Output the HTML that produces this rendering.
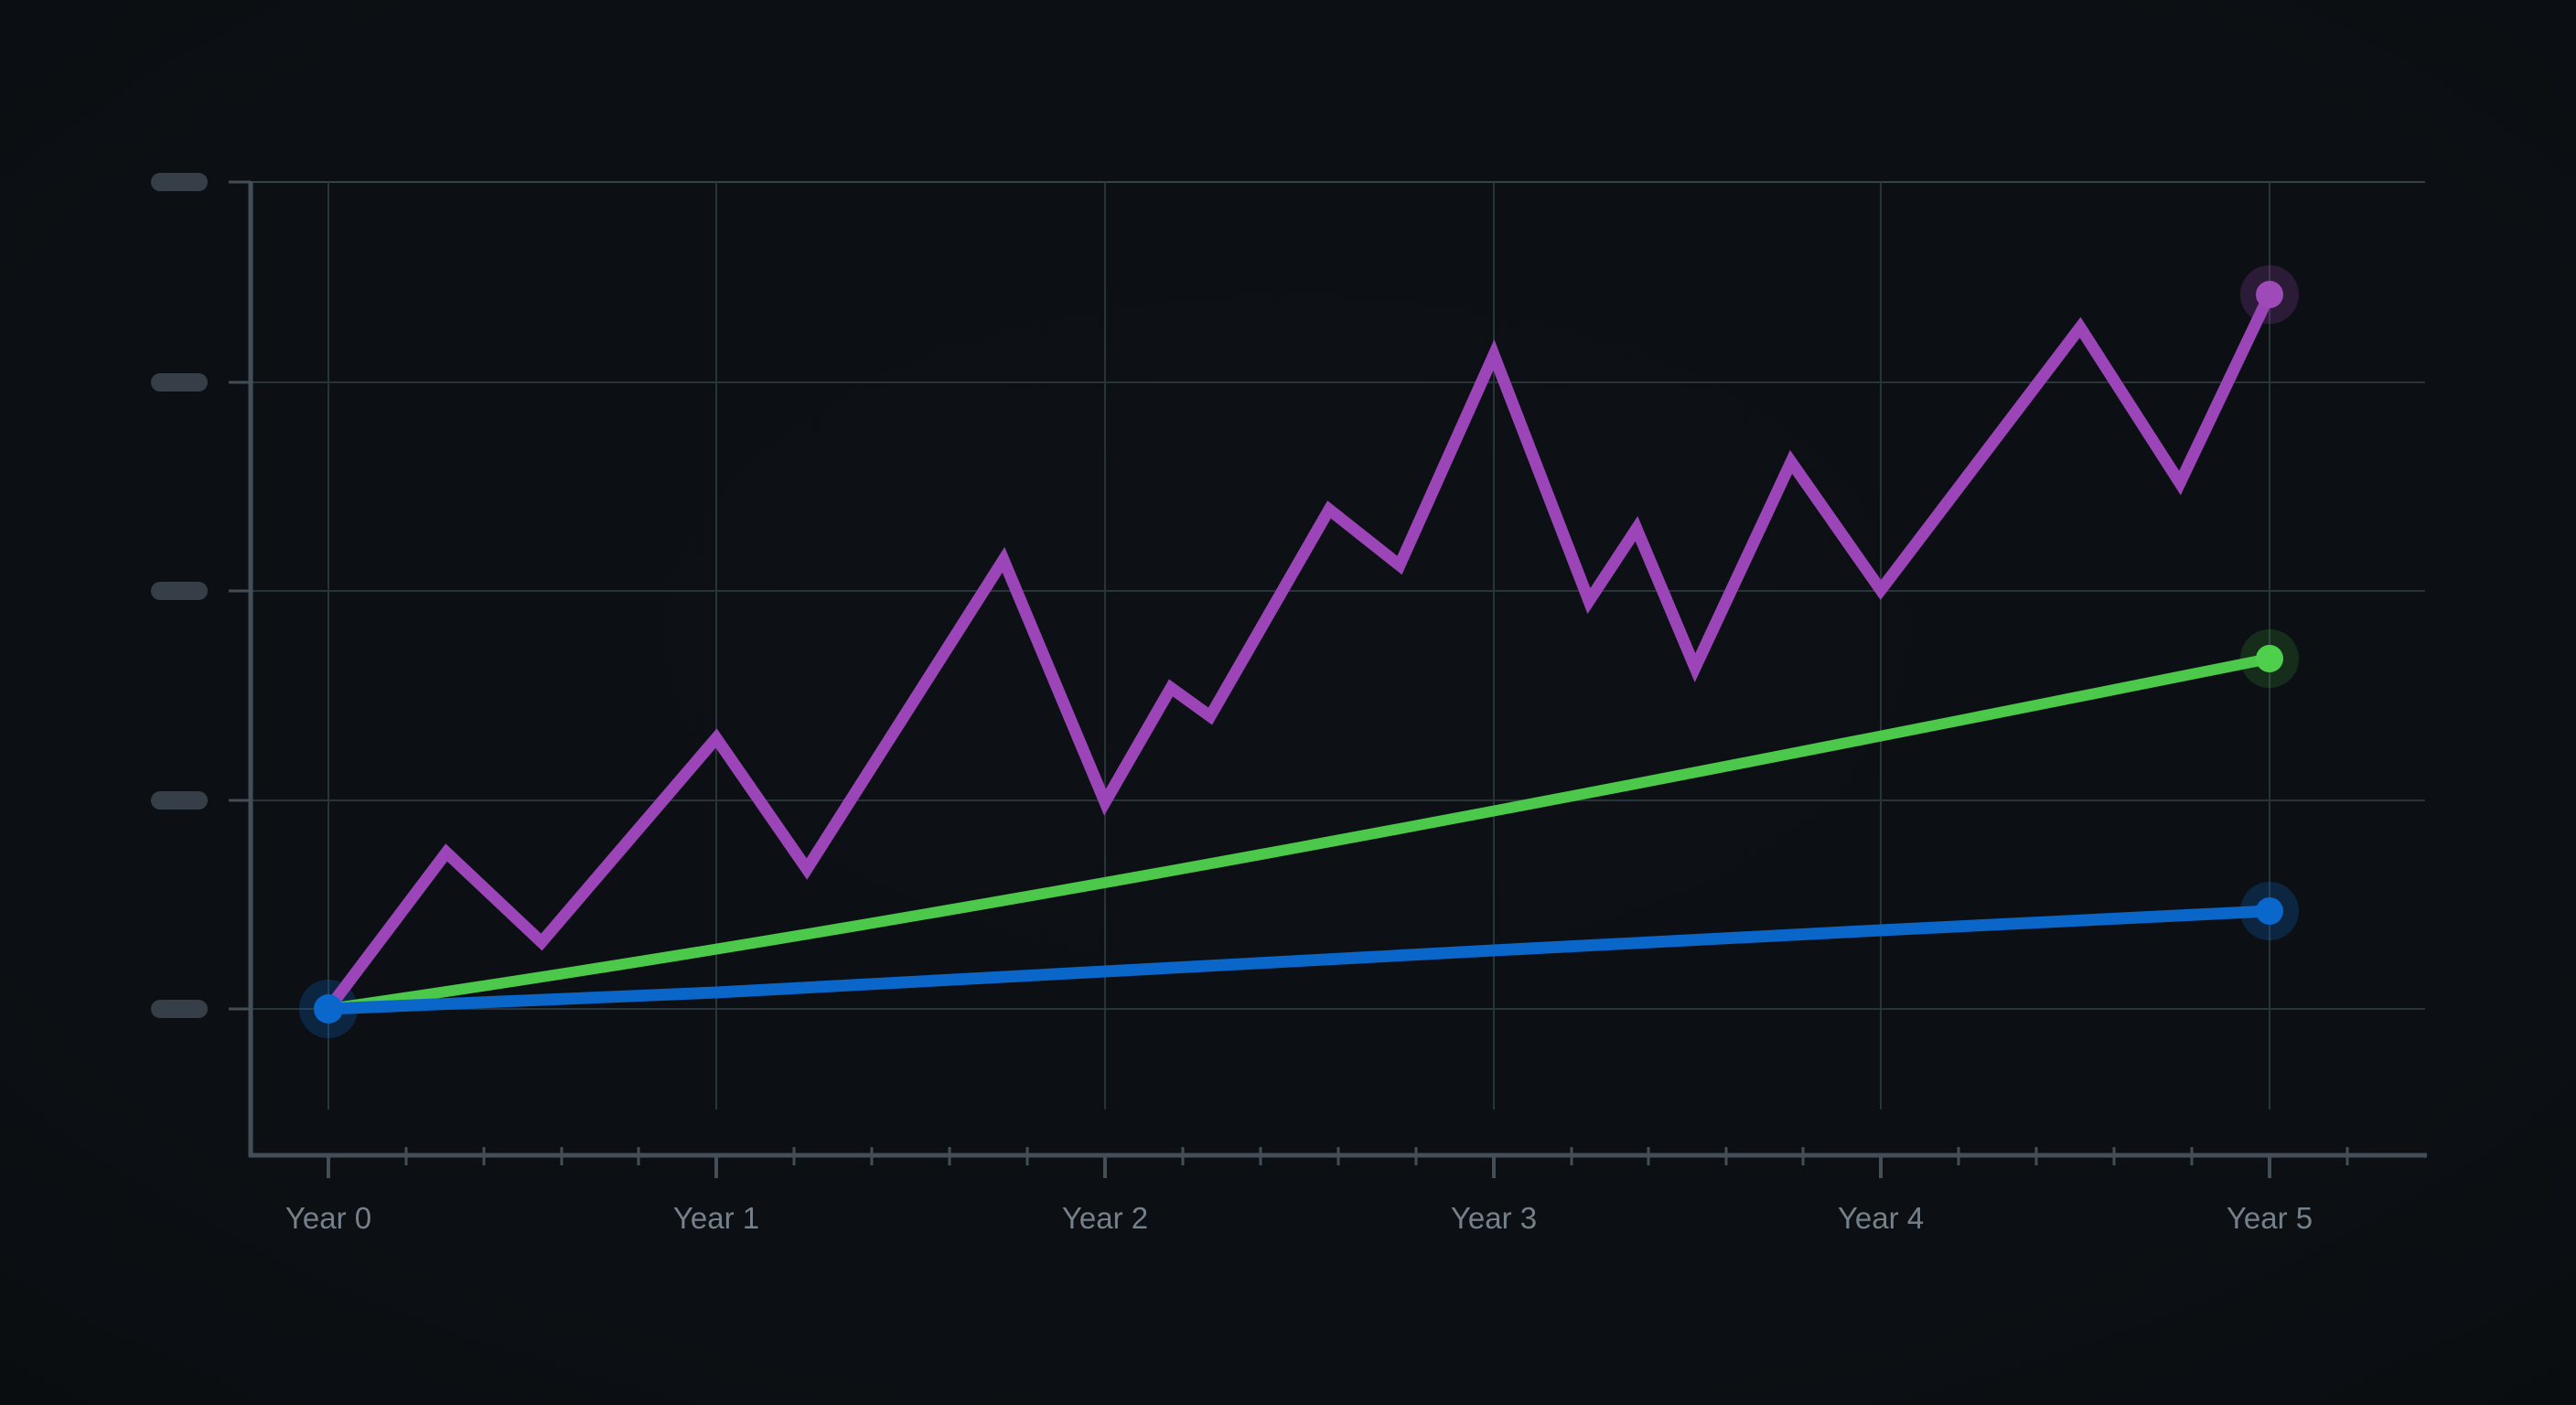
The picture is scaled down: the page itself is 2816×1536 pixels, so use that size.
<!DOCTYPE html>
<html>
<head>
<meta charset="utf-8">
<style>
  html,body{margin:0;padding:0;background:#0c1014;}
  body{width:2816px;height:1536px;overflow:hidden;}
  svg{display:block;}
</style>
</head>
<body>
<svg width="2816" height="1536" viewBox="0 0 2816 1536" xmlns="http://www.w3.org/2000/svg">
  <defs>
    <radialGradient id="bg" cx="50%" cy="45%" r="75%">
      <stop offset="0%" stop-color="#0d1116"/>
      <stop offset="70%" stop-color="#0c1014"/>
      <stop offset="100%" stop-color="#0a0d10"/>
    </radialGradient>
  </defs>
  <rect width="2816" height="1536" fill="url(#bg)"/>

  <!-- horizontal gridlines -->
  <g stroke="#28333a" stroke-width="2">
    <line x1="250" y1="199" x2="2651" y2="199" stroke="#36414a"/>
    <line x1="250" y1="418" x2="2651" y2="418"/>
    <line x1="250" y1="646" x2="2651" y2="646"/>
    <line x1="250" y1="875" x2="2651" y2="875"/>
    <line x1="250" y1="1103" x2="2651" y2="1103"/>
  </g>
  <!-- y tick stubs -->
  <g stroke="#434d55" stroke-width="3">
    <line x1="250" y1="199" x2="274" y2="199"/>
    <line x1="250" y1="418" x2="274" y2="418"/>
    <line x1="250" y1="646" x2="274" y2="646"/>
    <line x1="250" y1="875" x2="274" y2="875"/>
    <line x1="250" y1="1103" x2="274" y2="1103"/>
  </g>
  <!-- vertical gridlines -->
  <g stroke="#28333a" stroke-width="2">
    <line x1="359" y1="199" x2="359" y2="1213"/>
    <line x1="783" y1="199" x2="783" y2="1213"/>
    <line x1="1208" y1="199" x2="1208" y2="1213"/>
    <line x1="1633" y1="199" x2="1633" y2="1213"/>
    <line x1="2056" y1="199" x2="2056" y2="1213"/>
    <line x1="2481" y1="199" x2="2481" y2="1213"/>
  </g>

  <!-- y-axis pills -->
  <g fill="#363f47">
    <rect x="165" y="189" width="62" height="20" rx="10"/>
    <rect x="165" y="408" width="62" height="20" rx="10"/>
    <rect x="165" y="636" width="62" height="20" rx="10"/>
    <rect x="165" y="865" width="62" height="20" rx="10"/>
    <rect x="165" y="1093" width="62" height="20" rx="10"/>
  </g>

  <!-- axes -->
  <g stroke="#444e57" stroke-width="5" fill="none">
    <line x1="274" y1="198" x2="274" y2="1265"/>
    <line x1="272" y1="1263" x2="2653" y2="1263"/>
  </g>
  <!-- major ticks -->
  <g stroke="#444e57" stroke-width="4">
    <line x1="359" y1="1263" x2="359" y2="1288"/>
    <line x1="783" y1="1263" x2="783" y2="1288"/>
    <line x1="1208" y1="1263" x2="1208" y2="1288"/>
    <line x1="1633" y1="1263" x2="1633" y2="1288"/>
    <line x1="2056" y1="1263" x2="2056" y2="1288"/>
    <line x1="2481" y1="1263" x2="2481" y2="1288"/>
  </g>
  <!-- minor ticks -->
  <g stroke="#444e57" stroke-width="3">
    <line x1="444" y1="1254" x2="444" y2="1274"/>
    <line x1="529" y1="1254" x2="529" y2="1274"/>
    <line x1="614" y1="1254" x2="614" y2="1274"/>
    <line x1="698" y1="1254" x2="698" y2="1274"/>
    <line x1="868" y1="1254" x2="868" y2="1274"/>
    <line x1="953" y1="1254" x2="953" y2="1274"/>
    <line x1="1038" y1="1254" x2="1038" y2="1274"/>
    <line x1="1123" y1="1254" x2="1123" y2="1274"/>
    <line x1="1293" y1="1254" x2="1293" y2="1274"/>
    <line x1="1378" y1="1254" x2="1378" y2="1274"/>
    <line x1="1463" y1="1254" x2="1463" y2="1274"/>
    <line x1="1548" y1="1254" x2="1548" y2="1274"/>
    <line x1="1718" y1="1254" x2="1718" y2="1274"/>
    <line x1="1802" y1="1254" x2="1802" y2="1274"/>
    <line x1="1887" y1="1254" x2="1887" y2="1274"/>
    <line x1="1971" y1="1254" x2="1971" y2="1274"/>
    <line x1="2141" y1="1254" x2="2141" y2="1274"/>
    <line x1="2226" y1="1254" x2="2226" y2="1274"/>
    <line x1="2311" y1="1254" x2="2311" y2="1274"/>
    <line x1="2396" y1="1254" x2="2396" y2="1274"/>
    <line x1="2566" y1="1254" x2="2566" y2="1274"/>
  </g>

  <!-- x labels -->
  <g fill="#76808a" font-family="'Liberation Sans', sans-serif" font-size="33" text-anchor="middle">
    <text x="359" y="1343">Year 0</text>
    <text x="783" y="1343">Year 1</text>
    <text x="1208" y="1343">Year 2</text>
    <text x="1633" y="1343">Year 3</text>
    <text x="2056" y="1343">Year 4</text>
    <text x="2481" y="1343">Year 5</text>
  </g>

  <!-- halos -->
  <circle cx="2481" cy="322" r="32" fill="#9b45b8" fill-opacity="0.22"/>
  <circle cx="2481" cy="720" r="32" fill="#4cc94a" fill-opacity="0.16"/>
  <circle cx="2481" cy="996" r="32" fill="#0a66c8" fill-opacity="0.25"/>
  <circle cx="359" cy="1103" r="32" fill="#0a66c8" fill-opacity="0.25"/>

  <!-- purple series -->
  <polyline fill="none" stroke="#9b45b8" stroke-width="13" stroke-linejoin="miter" stroke-miterlimit="10"
    points="359,1103 488,932 592,1030 783,807 882,950 1097,612 1208,877 1280,752 1323,783 1453,557 1530,618 1633,388 1737,657 1789,578 1853,730 1958,505 2056,645 2274,358 2383,528 2481,322"/>

  <!-- green series -->
  <path d="M359,1103 C1066,1001 1773,862 2481,720" fill="none" stroke="#4cc94a" stroke-width="12" stroke-linecap="round"/>

  <!-- blue series -->
  <polyline fill="none" stroke="#0a66c8" stroke-width="13" stroke-linecap="round" stroke-linejoin="round"
    points="359,1103 783,1085 1208,1062 1633,1039 2056,1017 2481,996"/>

  <!-- end dots -->
  <circle cx="2481" cy="322" r="15" fill="#9f4ab9"/>
  <circle cx="2481" cy="720" r="15" fill="#4fd04d"/>
  <circle cx="2481" cy="996" r="15" fill="#0a68cc"/>
  <circle cx="359" cy="1103" r="16" fill="#0a68cc"/>
</svg>
</body>
</html>
